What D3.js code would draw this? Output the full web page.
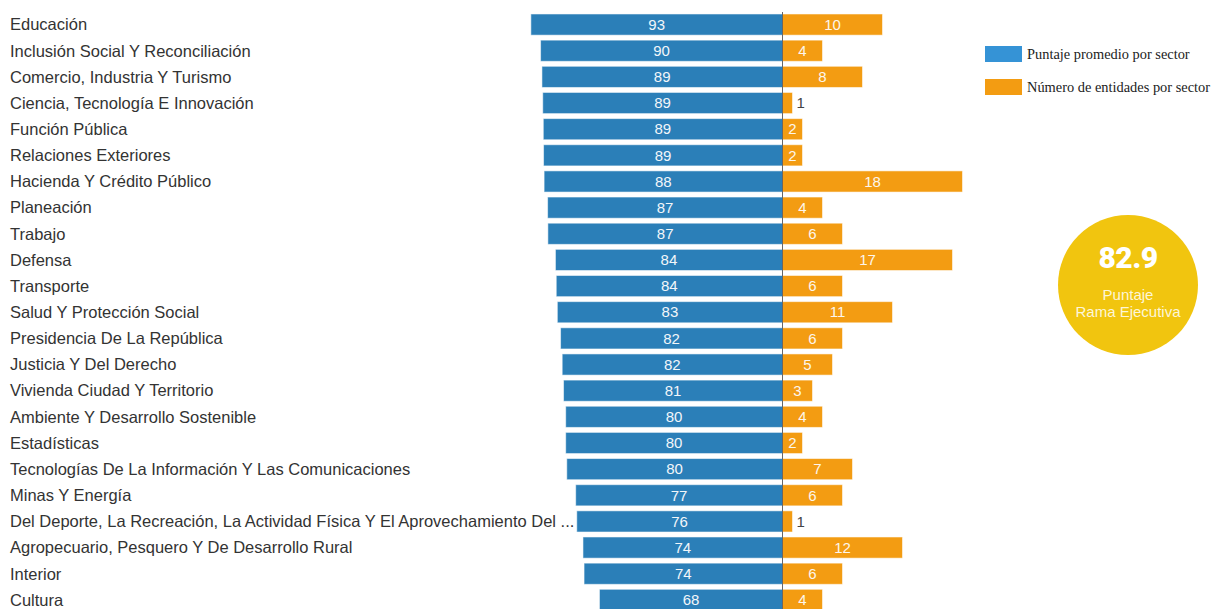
<!DOCTYPE html>
<html>
<head>
<meta charset="utf-8">
<script src="https://cdn.jsdelivr.net/npm/d3@7"></script>
<style>
  html, body { margin: 0; padding: 0; background: #fff; overflow: hidden; }
  svg { display: block; }
</style>
</head>
<body>
<svg id="chart" width="1211" height="609"></svg>
<script>
const categories = [
  "Educación",
  "Inclusión Social Y Reconciliación",
  "Comercio, Industria Y Turismo",
  "Ciencia, Tecnología E Innovación",
  "Función Pública",
  "Relaciones Exteriores",
  "Hacienda Y Crédito Público",
  "Planeación",
  "Trabajo",
  "Defensa",
  "Transporte",
  "Salud Y Protección Social",
  "Presidencia De La República",
  "Justicia Y Del Derecho",
  "Vivienda Ciudad Y Territorio",
  "Ambiente Y Desarrollo Sostenible",
  "Estadísticas",
  "Tecnologías De La Información Y Las Comunicaciones",
  "Minas Y Energía",
  "Del Deporte, La Recreación, La Actividad Física Y El Aprovechamiento Del ...",
  "Agropecuario, Pesquero Y De Desarrollo Rural",
  "Interior",
  "Cultura"
];
const puntaje = [93.2, 89.6, 89.1, 88.8, 88.6, 88.5, 88.3, 87.0, 86.9, 84.1, 83.8, 83.4, 82.2, 81.6, 81.1, 80.3, 80.3, 79.9, 76.6, 76.2, 73.9, 73.5, 67.8];
const entidades = [10, 4, 8, 1, 2, 2, 18, 4, 6, 17, 6, 11, 6, 5, 3, 4, 2, 7, 6, 1, 12, 6, 4];
const legendLabels = ["Puntaje promedio por sector", "Número de entidades por sector"];
const kpiValue = 82.9;
const kpiLabel = ["Puntaje", "Rama Ejecutiva"];

const rows = categories.map((c, i) => ({ cat: c, p: puntaje[i], n: entidades[i] }));

const svg = d3.select("#chart");
const x0 = 782.5;
const blue = "#2b7fb8", orange = "#f39c12";

const xP = d3.scaleLinear().domain([0, 100]).range([x0, x0 - 270]);
const xN = d3.scaleLinear().domain([0, 20]).range([x0, x0 + 200]);
const y = d3.scaleBand().domain(categories).range([0, 23 * 26.15]).paddingInner(0.19).paddingOuter(0.095);

const g = svg.append("g").attr("transform", "translate(0,11.5)");

// category labels
g.selectAll("text.cat").data(rows).join("text")
  .attr("class", "cat")
  .attr("x", 10)
  .attr("y", d => y(d.cat) + y.bandwidth() / 2)
  .attr("dy", "0.35em")
  .attr("font-family", "'Liberation Sans', Arial, sans-serif")
  .attr("font-size", 16.5)
  .attr("fill", "#333")
  .text(d => d.cat);

// blue bars
g.selectAll("rect.p").data(rows).join("rect")
  .attr("class", "p")
  .attr("x", d => xP(d.p))
  .attr("y", d => y(d.cat))
  .attr("width", d => x0 - xP(d.p))
  .attr("height", y.bandwidth())
  .attr("fill", blue)
  .attr("stroke", "rgba(255,255,255,0.55)")
  .attr("stroke-width", 1);

// orange bars
g.selectAll("rect.n").data(rows).join("rect")
  .attr("class", "n")
  .attr("x", x0)
  .attr("y", d => y(d.cat))
  .attr("width", d => xN(d.n) - x0)
  .attr("height", y.bandwidth())
  .attr("fill", orange)
  .attr("stroke", "rgba(255,255,255,0.55)")
  .attr("stroke-width", 1);

// blue labels
g.selectAll("text.pv").data(rows).join("text")
  .attr("class", "pv")
  .attr("x", d => (xP(d.p) + x0) / 2)
  .attr("y", d => y(d.cat) + y.bandwidth() / 2)
  .attr("dy", "0.35em")
  .attr("text-anchor", "middle")
  .attr("font-family", "'Liberation Sans', Arial, sans-serif")
  .attr("font-size", 15)
  .attr("fill", "#f2f6fa")
  .text(d => Math.round(d.p));

// orange labels
g.selectAll("text.nv").data(rows).join("text")
  .attr("class", "nv")
  .attr("x", d => d.n > 1 ? (xN(d.n) + x0) / 2 : xN(d.n) + 4)
  .attr("y", d => y(d.cat) + y.bandwidth() / 2)
  .attr("dy", "0.35em")
  .attr("text-anchor", d => d.n > 1 ? "middle" : "start")
  .attr("font-family", "'Liberation Sans', Arial, sans-serif")
  .attr("font-size", 15)
  .attr("fill", d => d.n > 1 ? "#fdf6ec" : "#444")
  .text(d => d.n);

// center line
svg.append("line")
  .attr("x1", x0).attr("x2", x0)
  .attr("y1", 12).attr("y2", 609)
  .attr("stroke", "#666").attr("stroke-width", 1);

// legend
const legend = svg.append("g").attr("transform", "translate(985,46)");
const legColors = ["#3593d6", orange];
legendLabels.forEach((t, i) => {
  const lg = legend.append("g").attr("transform", `translate(0,${i * 33})`);
  lg.append("rect").attr("width", 37).attr("height", 16).attr("fill", legColors[i]);
  lg.append("text").attr("x", 42).attr("y", 8).attr("dy", "0.35em")
    .attr("font-family", "'Liberation Serif', 'Times New Roman', serif")
    .attr("font-size", 14.4).attr("fill", "#222").text(t);
});

// KPI circle
const kpi = svg.append("g").attr("transform", "translate(1128,285)");
kpi.append("circle").attr("r", 70).attr("fill", "#f1c50f");
kpi.append("text").attr("y", -17).attr("text-anchor", "middle")
  .attr("font-family", "Roboto, 'Liberation Sans', sans-serif")
  .attr("font-weight", 900).attr("font-size", 30).attr("letter-spacing", -0.5).attr("fill", "#fff")
  .text(kpiValue.toFixed(1));
kpiLabel.forEach((t, i) => {
  kpi.append("text").attr("y", 15 + i * 17).attr("text-anchor", "middle")
    .attr("font-family", "'Liberation Sans', Arial, sans-serif")
    .attr("font-size", 15).attr("fill", "#fdf6d8").text(t);
});
</script>
</body>
</html>
